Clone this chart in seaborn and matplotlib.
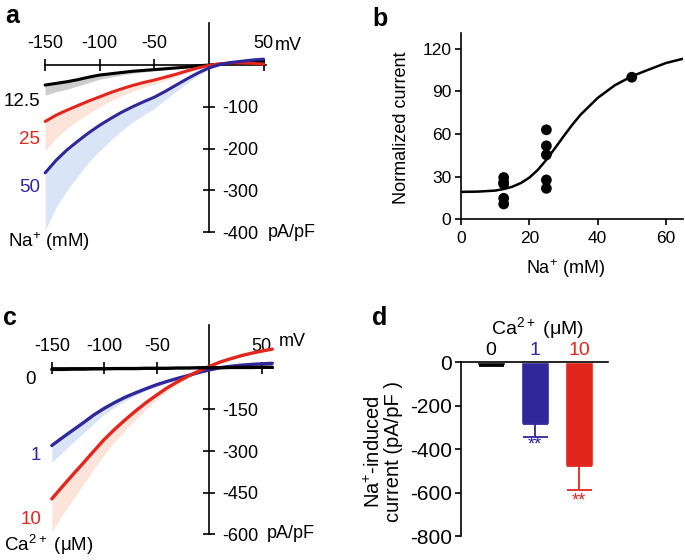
import numpy as np
import pandas as pd
import matplotlib
matplotlib.use("Agg")
import matplotlib.pyplot as plt
import seaborn as sns

sns.set_style("ticks")
plt.rcParams['font.family'] = ['Liberation Sans', 'DejaVu Sans']
plt.rcParams['mathtext.default'] = 'regular'
plt.rcParams['axes.unicode_minus'] = False
for k in ['text.color', 'axes.labelcolor', 'xtick.color', 'ytick.color', 'axes.edgecolor']:
    plt.rcParams[k] = 'black'

BLUE = '#30279a'
RED = '#e2261d'
BLUE_SH = '#d9e4f6'
RED_SH = '#fde4da'
GRAY_SH = '#cdcdcd'

# ---- panel a: I-V at three Na+ concentrations (pA/pF)
v_a = [-150, -140, -130, -120, -110, -100, -90, -80, -70, -60, -50,
       -40, -30, -20, -10, 0, 10, 20, 30, 40, 50]
na12 = [-48, -44, -40, -35, -29, -24, -21, -18, -15, -13, -11,
        -9, -7, -5, -2, 0, 2, 4, 6, 8, 9]
na12_lo = [-72, -64, -58, -50, -42, -34, -29, -24, -20, -17, -14,
           -11, -8, -6, -3, -1, 1, 3, 5, 7, 8]
na25 = [-135, -120, -108, -97, -86, -76, -66, -57, -49, -42, -36,
        -29, -22, -14, -7, -1, 3, 5, 5, 4, 2]
na25_lo = [-205, -175, -152, -133, -116, -100, -86, -74, -63, -54, -46,
           -37, -28, -19, -10, -3, 1, 3, 4, 3, 1]
na50 = [-258, -228, -203, -182, -162, -144, -128, -113, -100, -88, -77,
        -63, -48, -33, -19, -7, 1, 6, 9, 12, 14]
na50_lo = [-395, -340, -300, -265, -232, -205, -180, -157, -137, -120, -104,
           -83, -63, -43, -25, -10, -1, 4, 8, 11, 13]

# ---- panel b: dose response
b_na = [12.5, 12.5, 12.5, 12.5, 12.5, 25, 25, 25, 25, 25, 50]
b_norm = [29.4, 26.1, 24.9, 14.8, 10.8, 63, 51.7, 45.4, 27.7, 21.8, 100]
fit_na = [0, 5, 10, 12.5, 15, 17.5, 20, 22.5, 25, 27.5, 30, 32.5, 35,
          40, 45, 50, 55, 60, 65]
fit_norm = [19.3, 19.5, 20.2, 21.3, 22.9, 25.5, 29.3, 34.8, 41.9, 50, 58.3,
            66.3, 73.6, 85.4, 94.3, 100.7, 105.4, 110, 113]

# ---- panel c: I-V at three Ca2+ concentrations (pA/pF)
v_c = [-150, -140, -130, -120, -110, -100, -90, -80, -70, -60, -50,
       -40, -30, -20, -10, 0, 10, 20, 30, 40, 50, 60]
ca0 = [-6, -6, -5, -5, -4, -4, -3, -3, -3, -2, -2,
       -2, -1, -1, 0, 0, 0, 1, 1, 1, 2, 2]
ca1 = [-280, -252, -225, -198, -170, -146, -125, -106, -90, -75, -61,
       -49, -38, -28, -17, -8, 0, 5, 9, 12, 14, 16]
ca1_lo = [-340, -305, -270, -236, -200, -168, -142, -119, -99, -82, -67,
          -53, -41, -30, -18, -9, -1, 4, 8, 11, 13, 15]
ca10 = [-472, -428, -385, -343, -300, -258, -221, -187, -155, -125, -98,
        -72, -50, -30, -12, 5, 20, 32, 43, 52, 60, 67]
ca10_lo = [-590, -530, -475, -420, -365, -312, -266, -225, -185, -148, -115,
           -84, -58, -35, -15, 3, 18, 30, 41, 50, 58, 65]

# ---- panel d: Na+-induced current
d_cat = ['0', '1', '10']
d_mean = [-12, -285, -477]
d_sem = [4, 58, 112]
d_colors = ['black', BLUE, RED]

W, H = 685, 560
fig = plt.figure(figsize=(W / 100, H / 100), dpi=100)


def add_ax(x0, x1, y0, y1):
    return fig.add_axes([x0 / W, 1 - y1 / H, (x1 - x0) / W, (y1 - y0) / H])


def ftext(x, y, s, **kw):
    fig.text(x / W, 1 - y / H, s, **kw)


def iv_axes(ax, xb, yb, xt, yt):
    for s in ['bottom', 'left']:
        ax.spines[s].set_visible(False)
    ax.spines['top'].set_position(('data', 0))
    ax.spines['right'].set_position(('data', 0))
    ax.spines['top'].set_bounds(*xb)
    ax.spines['right'].set_bounds(*yb)
    for s in ['top', 'right']:
        ax.spines[s].set_linewidth(1.2)
        ax.spines[s].set_zorder(2)
    ax.xaxis.set_ticks_position('top')
    ax.yaxis.set_ticks_position('right')
    ax.set_xticks(xt)
    ax.set_yticks(yt)
    ax.tick_params(direction='inout', length=8.5, width=1.2, labelsize=13)
    ax.tick_params(axis='x', pad=5)
    ax.tick_params(axis='y', pad=5)
    ax.set_xlabel('')
    ax.set_ylabel('')


# ---------------- panel a
ax_a = add_ax(39.7, 272.3, 21.1, 236.4)
for lo, hi, c in [(na50_lo, na50, BLUE_SH), (na25_lo, na25, RED_SH), (na12_lo, na12, GRAY_SH)]:
    ax_a.fill_between(v_a, lo, hi, color=c, lw=0, zorder=1)
for y, c in [(na12, 'black'), (na25, RED), (na50, BLUE)]:
    sns.lineplot(x=v_a, y=y, color=c, lw=2.2, ax=ax_a, zorder=3)
ax_a.set_xlim(-155, 58)
ax_a.set_ylim(-410, 105)
iv_axes(ax_a, (-150, 52), (-400, 100), [-150, -100, -50, 50], [-100, -200, -300, -400])

ftext(5, 16, 'a', fontsize=18, fontweight='bold', va='center')
ftext(275, 45, 'mV', fontsize=13, va='center')
ftext(268, 232, 'pA/pF', fontsize=13, va='center')
ftext(40, 101, '12.5', fontsize=13.5, ha='right', va='center')
ftext(40, 140, '25', fontsize=13.5, ha='right', va='center', color=RED)
ftext(40, 188, '50', fontsize=13.5, ha='right', va='center', color=BLUE)
ftext(8, 242, 'Na$^{+}$ (mM)', fontsize=13.5, va='center')

# ---------------- panel b
ax_b = add_ax(461, 683, 33.2, 219.3)
sns.lineplot(x=fit_na, y=fit_norm, color='black', lw=1.8, ax=ax_b)
sns.scatterplot(x=b_na, y=b_norm, color='black', s=60, edgecolor='none', ax=ax_b, zorder=3)
ax_b.set_xlim(0, 65)
ax_b.set_ylim(0, 131)
ax_b.set_xticks([0, 20, 40, 60])
ax_b.set_yticks([0, 30, 60, 90, 120])
sns.despine(ax=ax_b)
for s in ['left', 'bottom']:
    ax_b.spines[s].set_linewidth(1.2)
ax_b.tick_params(direction='out', length=4.5, width=1.2, labelsize=12.5, pad=2.5)
ax_b.tick_params(axis='x', pad=4)
ftext(372, 19, 'b', fontsize=18, fontweight='bold', va='center')
ftext(565, 269, 'Na$^{+}$ (mM)', fontsize=13, ha='center', va='center')
ftext(402, 128, 'Normalized current', fontsize=13, ha='center', va='center', rotation=90)

# ---------------- panel c
ax_c = add_ax(46.55, 277.55, 321.9, 537.2)
for lo, hi, c in [(ca10_lo, ca10, RED_SH), (ca1_lo, ca1, BLUE_SH)]:
    ax_c.fill_between(v_c, lo, hi, color=c, lw=0, zorder=1)
for y, c in [(ca1, BLUE), (ca10, RED), (ca0, 'black')]:
    sns.lineplot(x=v_c, y=y, color=c, lw=2.4, ax=ax_c, zorder=3)
ax_c.set_xlim(-155, 65)
ax_c.set_ylim(-610, 165)
iv_axes(ax_c, (-150, 61), (-600, 155), [-150, -100, -50, 50], [-150, -300, -450, -600])

ftext(3, 318, 'c', fontsize=18, fontweight='bold', va='center')
ftext(279, 341, 'mV', fontsize=13, va='center')
ftext(267, 533, 'pA/pF', fontsize=13, va='center')
ftext(36, 379, '0', fontsize=13.5, ha='right', va='center')
ftext(41, 455, '1', fontsize=13.5, ha='right', va='center', color=BLUE)
ftext(42, 520, '10', fontsize=13.5, ha='right', va='center', color=RED)
ftext(4, 545, 'Ca$^{2+}$ ($\\mu$M)', fontsize=13.5, va='center')

# ---------------- panel d
ax_d = add_ax(460.7, 608, 362.3, 536.3)
bars = pd.DataFrame({'ca': d_cat, 'cur': d_mean})
sns.barplot(data=bars, x='ca', y='cur', hue='ca', order=d_cat, hue_order=d_cat,
            palette=d_colors, legend=False, width=0.64, saturation=1, ax=ax_d, zorder=2)
for i in range(3):
    ax_d.errorbar(i, d_mean[i], yerr=[[d_sem[i]], [0]], fmt='none',
                  ecolor=d_colors[i], elinewidth=1.3, capsize=9, capthick=1.3, zorder=3)
ax_d.set_xlim(-0.683, 2.66)
ax_d.set_ylim(-800, 0)
ax_d.set_xticks([])
ax_d.set_yticks([0, -200, -400, -600, -800])
ax_d.set_xlabel('')
ax_d.set_ylabel('')
ax_d.spines['right'].set_visible(False)
ax_d.spines['bottom'].set_visible(False)
for s in ['left', 'top']:
    ax_d.spines[s].set_linewidth(1.2)
ax_d.tick_params(axis='y', direction='out', length=4.5, width=1.2, labelsize=15, pad=2)
for i in range(3):
    ax_d.text(i, 56, d_cat[i], color=d_colors[i], fontsize=14, ha='center', va='center')
ax_d.text(1.07, 158, 'Ca$^{2+}$ ($\\mu$M)', fontsize=14, ha='center', va='center')
ax_d.text(1, -382, '**', color=BLUE, fontsize=13, ha='center', va='center')
ax_d.text(2, -636, '**', color=RED, fontsize=13, ha='center', va='center')
ftext(372, 318, 'd', fontsize=18, fontweight='bold', va='center')
ftext(383, 452, 'Na$^{+}$-induced\ncurrent (pA/pF )', fontsize=14.5, ha='center',
      va='center', rotation=90, multialignment='center', linespacing=1.0)

fig.savefig('out.png', dpi=100)
